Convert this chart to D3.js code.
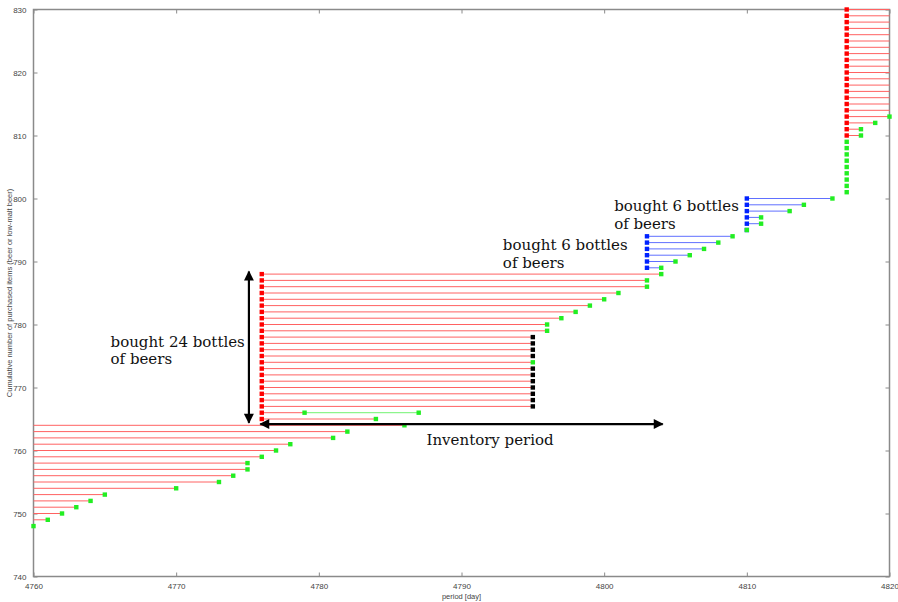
<!DOCTYPE html>
<html lang="en">
<head>
    <meta charset="UTF-8">
    <title>Beer inventory</title>
    <script src="https://d3js.org/d3.v7.min.js"></script>
    <style>
        body {
            margin: 0;
            background-color: #ffffff;
        }
        .tick-label {
            font-family: "Liberation Sans", Arial, sans-serif;
            font-size: 8px;
            fill: #444;
        }
        .note {
            font-family: "DejaVu Serif", "Liberation Serif", serif;
            font-size: 15px;
            fill: #111;
        }
    </style>
</head>
<body>
<svg width="898" height="602"></svg>
<script>
    // cumulative item number (one row per bottle)
    const itemNo = [
        748, 749, 750, 751, 752, 753, 754, 755, 756, 757, 758, 759, 760, 761, 762, 763, 764,
        765, 766, 767, 768, 769, 770, 771, 772, 773, 774, 775, 776, 777, 778,
        779, 780, 781, 782, 783, 784, 785, 786, 787, 788,
        789, 790, 791, 792, 793, 794,
        795, 796, 797, 798, 799, 800,
        801, 802, 803, 804, 805, 806, 807, 808, 809,
        810, 811, 812, 813, 814, 815, 816, 817, 818, 819, 820, 821, 822, 823, 824, 825, 826, 827, 828, 829, 830
    ];
    // day bought (null = bought before the shown period)
    const buyDay = [
        null, null, null, null, null, null, null, null, null, null, null, null, null, null, null, null, null,
        4776, 4776, 4776, 4776, 4776, 4776, 4776, 4776, 4776, 4776, 4776, 4776, 4776, 4776,
        4776, 4776, 4776, 4776, 4776, 4776, 4776, 4776, 4776, 4776,
        4803, 4803, 4803, 4803, 4803, 4803,
        4810, 4810, 4810, 4810, 4810, 4810,
        4817, 4817, 4817, 4817, 4817, 4817, 4817, 4817, 4817,
        4817, 4817, 4817, 4817, 4817, 4817, 4817, 4817, 4817, 4817, 4817, 4817, 4817, 4817, 4817, 4817, 4817, 4817, 4817, 4817, 4817
    ];
    // day drunk (null = still in stock)
    const useDay = [
        4760, 4761, 4762, 4763, 4764, 4765, 4770, 4773, 4774, 4775, 4775, 4776, 4777, 4778, 4781, 4782, 4786,
        4784, 4779, 4795, 4795, 4795, 4795, 4795, 4795, 4795, 4795, 4795, 4795, 4795, 4795,
        4796, 4796, 4797, 4798, 4799, 4800, 4801, 4803, 4803, 4804,
        4804, 4805, 4806, 4807, 4808, 4809,
        4810, 4811, 4811, 4813, 4814, 4816,
        4817, 4817, 4817, 4817, 4817, 4817, 4817, 4817, 4817,
        4818, 4818, 4819, 4820, null, null, null, null, null, null, null, null, null, null, null, null, null, null, null, null, null
    ];
    // how it was bought: case of 24, pack of 6, single bottle
    const buyType = [
        "case", "case", "case", "case", "case", "case", "case", "case", "case", "case", "case", "case", "case", "case", "case", "case", "case",
        "case", "case", "case", "case", "case", "case", "case", "case", "case", "case", "case", "case", "case", "case",
        "case", "case", "case", "case", "case", "case", "case", "case", "case", "case",
        "six", "six", "six", "six", "six", "six",
        "six", "six", "six", "six", "six", "six",
        "single", "single", "single", "single", "single", "single", "single", "single", "single",
        "case", "case", "case", "case", "case", "case", "case", "case", "case", "case", "case", "case", "case", "case", "case", "case", "case", "case", "case", "case", "case"
    ];
    // items whose end point is marked black instead of green
    const blackEnd = [767, 768, 769, 770, 771, 772, 773, 775, 776, 777, 778];
    // a second green stretch on one row
    const extraItem = [766];
    const extraFrom = [4779];
    const extraTo = [4787];

    const xTicks = [4760, 4770, 4780, 4790, 4800, 4810, 4820];
    const yTicks = [740, 750, 760, 770, 780, 790, 800, 810, 820, 830];

    const lineColor = { case: "#ff6262", six: "#6070ff", single: "#ff6262" };
    const markColor = { case: "#ff0000", six: "#0022ff", single: null };
    const green = "#22ee22";

    const items = itemNo.map((n, i) => ({
        n: n, buy: buyDay[i], use: useDay[i], type: buyType[i],
        end: blackEnd.includes(n) ? "#000000" : green
    }));

    const svg = d3.select("svg");
    const margin = { left: 33.5, top: 9.5, right: 8.5, bottom: 25.5 };
    const width = 898 - margin.left - margin.right,
          height = 602 - margin.top - margin.bottom;

    const x = d3.scaleLinear().domain([4760, 4820]).range([0, width]);
    const y = d3.scaleLinear().domain([740, 830]).range([height, 0]);

    const g = svg.append("g").attr("transform", `translate(${margin.left},${margin.top})`);

    const defs = svg.append("defs");
    defs.append("clipPath").attr("id", "plot")
      .append("rect").attr("x", -3).attr("y", -3).attr("width", width + 6).attr("height", height + 6);

    defs.append("marker")
        .attr("id", "head")
        .attr("viewBox", "0 0 10 10")
        .attr("refX", 9).attr("refY", 5)
        .attr("markerWidth", 5).attr("markerHeight", 4.5)
        .attr("orient", "auto-start-reverse")
      .append("path")
        .attr("d", "M0,0 L10,5 L0,10 Z")
        .attr("fill", "#000");

    // frame
    g.append("rect")
        .attr("width", width).attr("height", height)
        .attr("fill", "none").attr("stroke", "#8a8a8a").attr("stroke-width", 1.5);

    // ticks on all four sides, pointing inwards
    const xAxisB = d3.axisBottom(x).tickValues(xTicks).tickSize(-4).tickPadding(7).tickFormat(d3.format("d"));
    const xAxisT = d3.axisTop(x).tickValues(xTicks).tickSize(-4).tickFormat("");
    const yAxisL = d3.axisLeft(y).tickValues(yTicks).tickSize(-4).tickPadding(7).tickFormat(d3.format("d"));
    const yAxisR = d3.axisRight(y).tickValues(yTicks).tickSize(-4).tickFormat("");

    [[xAxisB, `translate(0,${height})`], [xAxisT, "translate(0,0)"],
     [yAxisL, "translate(0,0)"], [yAxisR, `translate(${width},0)`]].forEach(([ax, tr]) => {
        const a = g.append("g").attr("transform", tr).call(ax);
        a.select(".domain").remove();
        a.selectAll("line").attr("stroke", "#8a8a8a");
        a.selectAll("text").attr("class", "tick-label").attr("font-family", null).attr("font-size", null);
    });

    const plot = g.append("g").attr("clip-path", "url(#plot)");

    // stock lines: from the day bought to the day drunk
    plot.selectAll(".stock")
      .data(items.filter(d => (d.buy === null ? 4760 : d.buy) < (d.use === null ? 4820 : d.use)))
      .enter().append("line")
        .attr("class", "stock")
        .attr("x1", d => x(d.buy === null ? 4760 : d.buy))
        .attr("x2", d => x(d.use === null ? 4820 : d.use))
        .attr("y1", d => y(d.n)).attr("y2", d => y(d.n))
        .attr("stroke", d => lineColor[d.type])
        .attr("stroke-width", 1);

    const extras = extraItem.map((n, i) => ({ n: n, from: extraFrom[i], to: extraTo[i] }));
    plot.selectAll(".extra")
      .data(extras)
      .enter().append("line")
        .attr("x1", d => x(d.from)).attr("x2", d => x(d.to))
        .attr("y1", d => y(d.n)).attr("y2", d => y(d.n))
        .attr("stroke", "#8df58d").attr("stroke-width", 1.2);

    const sq = 4.4;
    // purchase markers
    plot.selectAll(".buy")
      .data(items.filter(d => d.buy !== null && markColor[d.type]))
      .enter().append("rect")
        .attr("x", d => x(d.buy) - sq / 2).attr("y", d => y(d.n) - sq / 2)
        .attr("width", sq).attr("height", sq)
        .attr("fill", d => markColor[d.type]);

    // consumption markers
    plot.selectAll(".use")
      .data(items.filter(d => d.use !== null))
      .enter().append("rect")
        .attr("x", d => x(d.use) - sq / 2).attr("y", d => y(d.n) - sq / 2)
        .attr("width", sq).attr("height", sq)
        .attr("fill", d => d.end);

    plot.selectAll(".extraEnd")
      .data(extras)
      .enter().append("rect")
        .attr("x", d => x(d.to) - sq / 2).attr("y", d => y(d.n) - sq / 2)
        .attr("width", sq).attr("height", sq)
        .attr("fill", green);

    // annotation arrows (in data units)
    const arrows = [
        { x1: 4775.1, y1: 764.4, x2: 4775.1, y2: 788.4 },
        { x1: 4775.9, y1: 764.2, x2: 4804.1, y2: 764.2 }
    ];
    g.selectAll(".arrow")
      .data(arrows)
      .enter().append("line")
        .attr("x1", d => x(d.x1)).attr("y1", d => y(d.y1))
        .attr("x2", d => x(d.x2)).attr("y2", d => y(d.y2))
        .attr("stroke", "#000").attr("stroke-width", 2.2)
        .attr("marker-start", "url(#head)")
        .attr("marker-end", "url(#head)");

    // annotation texts, anchored at the first baseline
    const notes = [
        { x: 4765.4, y: 776.5, lines: ["bought 24 bottles", "of beers"] },
        { x: 4792.9, y: 791.8, lines: ["bought 6 bottles", "of beers"] },
        { x: 4800.7, y: 798.0, lines: ["bought 6 bottles", "of beers"] },
        { x: 4787.55, y: 760.9, lines: ["Inventory period"] }
    ];
    notes.forEach(nt => {
        const t = g.append("text").attr("class", "note")
            .attr("x", x(nt.x)).attr("y", y(nt.y));
        nt.lines.forEach((s, i) => {
            t.append("tspan").attr("x", x(nt.x)).attr("dy", i === 0 ? 0 : 17.5).text(s);
        });
    });

    // axis titles
    svg.append("text")
        .attr("class", "tick-label")
        .attr("x", margin.left + x(4790)).attr("y", 599)
        .attr("text-anchor", "middle")
        .style("font-size", "7.5px")
        .text("period [day]");

    svg.append("text")
        .attr("class", "tick-label")
        .attr("transform", `translate(12,${margin.top + height / 2}) rotate(-90)`)
        .attr("text-anchor", "middle")
        .style("font-size", "7.5px")
        .text("Cumulative number of purchased items (beer or low-malt beer)");
</script>
</body>
</html>
